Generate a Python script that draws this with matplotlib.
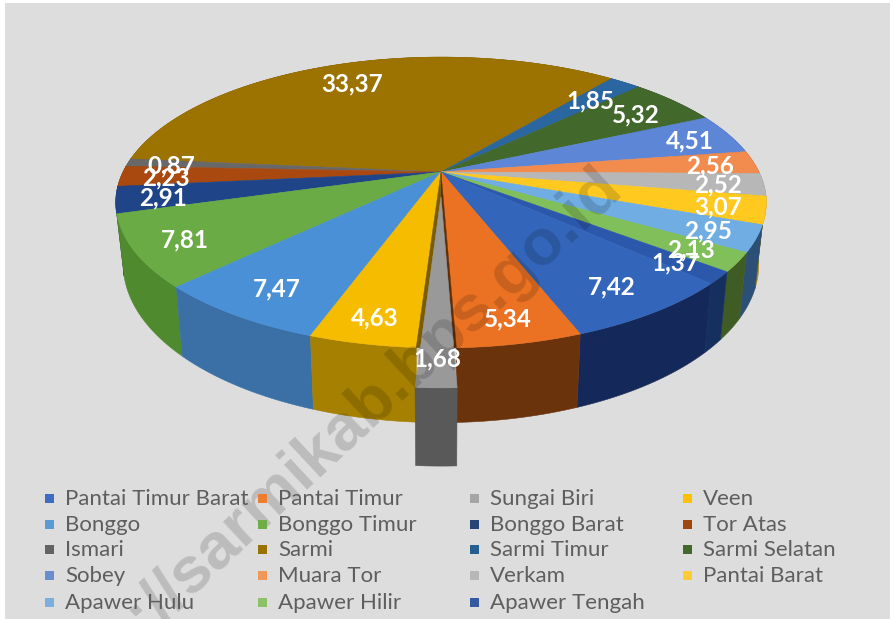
import numpy as np
import matplotlib
matplotlib.use("Agg")
import matplotlib.pyplot as plt
from matplotlib.patches import Rectangle

districts = ["Pantai Timur Barat", "Pantai Timur", "Sungai Biri", "Veen", "Bonggo", "Bonggo Timur",
             "Bonggo Barat", "Tor Atas", "Ismari", "Sarmi", "Sarmi Timur", "Sarmi Selatan", "Sobey",
             "Muara Tor", "Verkam", "Pantai Barat", "Apawer Hulu", "Apawer Hilir", "Apawer Tengah"]
shares = [7.42, 5.34, 1.68, 4.63, 7.47, 7.81, 2.91, 2.23, 0.87, 33.37, 1.85, 5.32, 4.51, 2.56,
          2.52, 3.07, 2.95, 2.13, 1.37]
top_colors = ["#3366BA", "#EB7222", "#999999", "#F5BC00", "#4A90D6", "#6BAB45", "#1F4488", "#A9480F",
              "#686868", "#9C7200", "#2A67A0", "#43682B", "#5D87D6", "#F18B4E", "#B7B7B7", "#FFC91F",
              "#6FADE2", "#81BF5A", "#2C58AC"]
side_colors = ["#14295A", "#6B330C", "#595959", "#A68000", "#3A70A6", "#4F8B2E", "#1A2E55", "#6B3009",
               "#444444", "#6B5000", "#1B4468", "#2E481D", "#47619A", "#A8653A", "#808080", "#A88510",
               "#2B4F75", "#3F5C24", "#15305F"]
legend_swatches = ["#3E6CC0", "#ED7D31", "#A5A5A5", "#FFC000", "#5B9BD5", "#70AD47", "#264478", "#9E480E",
                   "#636363", "#997300", "#255E91", "#43682B", "#698ED0", "#F1975A", "#B7B7B7", "#FFCD33",
                   "#7CAFDD", "#8CC168", "#335AA1"]
label_radius = [0.83, 0.87, 0.87, 0.87, 0.83, 0.85, 0.86, 0.86, 0.86, 0.82, 0.79, 0.82, 0.86, 0.86,
                0.86, 0.86, 0.86, 0.86, 0.86]

W, H = 894, 619
fig = plt.figure(figsize=(W / 100, H / 100), dpi=100, facecolor="white")
ax = fig.add_axes([0, 0, 1, 1])
ax.set_xlim(0, W)
ax.set_ylim(H, 0)
ax.axis("off")
ax.add_patch(Rectangle((5, 3), 885, H, fc="#DDDDDD", ec="none", zorder=0))

# perspective projection of the pie disc
CX, CY, A, B, K = 441.0, 172.0, 318.0, 139.0, 0.21
THICK, SHRINK = 59.0, 0.977
START = 132.1
EXPLODED = 2
DV = 0.171


def project(u, v, bottom=False):
    w = 1 - K * v
    x, y = A * u / w, B * v / w
    if bottom:
        return CX + SHRINK * x, CY + y + THICK / w
    return CX + x, CY + y


def disc(ang, r=1.0):
    # small angular warp that mimics the 3D engine's foreshortening
    ang = np.asarray(ang, dtype=float)
    warp = 1.8 * np.sin(np.radians(ang)) - 1.2 * np.exp(-(((ang % 360) - 220) / 35) ** 2)
    t = np.radians(ang + warp)
    return r * np.sin(t), -r * np.cos(t)


total = sum(shares)
edges = START + np.concatenate([[0], np.cumsum(shares)]) / total * 360
mids = (edges[:-1] + edges[1:]) / 2


def draw_slice(i, z, dv=0.0):
    a = np.linspace(edges[i], edges[i + 1], 60)
    u, v = disc(a)
    v = v + dv
    xt, yt = project(u, v)
    xb, yb = project(u, v, True)
    ax.fill(np.r_[xt, xb[::-1]], np.r_[yt, yb[::-1]], fc=side_colors[i], ec=side_colors[i], lw=0.4, zorder=z)
    x0, y0 = project(0.0, dv)
    ax.fill(np.r_[x0, xt], np.r_[y0, yt], fc=top_colors[i], ec=top_colors[i], lw=0.4, zorder=z + 100)


order = np.argsort(-np.cos(np.radians(mids)))
for rank, i in enumerate(order):
    if i != EXPLODED:
        draw_slice(i, 2 + rank * 0.01)

# empty slot left by the pulled-out slice
for lo, hi, col in [(edges[EXPLODED], mids[EXPLODED], "#5F2D08"), (mids[EXPLODED], edges[EXPLODED + 1], "#7A5C00")]:
    u, v = disc(np.linspace(lo, hi, 10))
    xs, ys = project(u, v)
    ax.fill(np.r_[CX, xs], np.r_[CY, ys], fc=col, ec=col, lw=0.3, zorder=150)

draw_slice(EXPLODED, 160, DV)

# watermark
ax.text(612, 178, "http://sarmikab.bps.go.id", rotation=43, rotation_mode="anchor", ha="right", va="center",
        fontsize=47, fontweight="bold", family="Liberation Sans", color="black", alpha=0.15, zorder=300,
        clip_on=True)

# value labels
for i, val in enumerate(shares):
    u, v = disc(mids[i], label_radius[i])
    if i == EXPLODED:
        v = v + DV
    x, y = project(u, v)
    ax.text(x, y + 2, f"{val:.2f}".replace(".", ","), color="white", fontsize=17.5, fontweight="bold", family="Lato",
            ha="center", va="center", zorder=400)

# legend
col_x = [49, 262, 474, 687]
row_y = [498, 524, 549, 575, 602]
for i, name in enumerate(districts):
    r, c = divmod(i, 4)
    ax.add_patch(Rectangle((col_x[c] - 4.5, row_y[r] - 4.5), 9, 9, fc=legend_swatches[i], ec="none", zorder=350))
    ax.text(col_x[c] + 16, row_y[r] + 1, name, color="#5E5E5E", fontsize=16, family="Lato", ha="left",
            va="center", zorder=350)

fig.savefig("out.png", dpi=100, facecolor="white")
